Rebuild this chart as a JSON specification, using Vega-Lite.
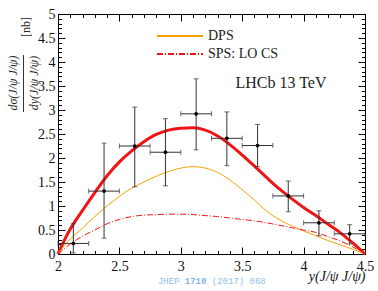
{
  "$schema": "https://vega.github.io/schema/vega-lite/v6.json",
  "width": 307,
  "height": 240,
  "autosize": "none",
  "padding": {"left": 58, "top": 14, "right": 13, "bottom": 37},
  "background": "white",
  "config": {
    "view": {"stroke": null},
    "font": "Liberation Serif",
    "axis": {"grid": false, "labelFont": "Liberation Serif", "labelFontSize": 14, "labelColor": "#111", "titleFont": "Liberation Serif", "domainColor": "#000", "tickColor": "#000", "labelFlush": false, "labelOverlap": false}
  },
  "datasets": {
    "pts": [
      {"x": 2.125, "y": 0.22, "ylo": 0.02, "yhi": 0.63, "xlo": 2.0, "xhi": 2.25},
      {"x": 2.375, "y": 1.31, "ylo": 0.33, "yhi": 2.31, "xlo": 2.25, "xhi": 2.5},
      {"x": 2.625, "y": 2.25, "ylo": 1.40, "yhi": 3.06, "xlo": 2.5, "xhi": 2.75},
      {"x": 2.875, "y": 2.12, "ylo": 1.42, "yhi": 2.82, "xlo": 2.75, "xhi": 3.0},
      {"x": 3.125, "y": 2.92, "ylo": 2.17, "yhi": 3.65, "xlo": 3.0, "xhi": 3.25},
      {"x": 3.375, "y": 2.41, "ylo": 1.84, "yhi": 2.96, "xlo": 3.25, "xhi": 3.5},
      {"x": 3.625, "y": 2.26, "ylo": 1.82, "yhi": 2.70, "xlo": 3.5, "xhi": 3.75},
      {"x": 3.875, "y": 1.21, "ylo": 0.88, "yhi": 1.52, "xlo": 3.75, "xhi": 4.0},
      {"x": 4.125, "y": 0.65, "ylo": 0.38, "yhi": 0.90, "xlo": 4.0, "xhi": 4.25},
      {"x": 4.375, "y": 0.42, "ylo": 0.21, "yhi": 0.61, "xlo": 4.25, "xhi": 4.5}
    ],
    "dps": [
      {"x": 2.0, "y": 0, "s": "DPS"}, {"x": 2.05, "y": 0.17, "s": "DPS"}, {"x": 2.1, "y": 0.31, "s": "DPS"}, {"x": 2.2, "y": 0.54, "s": "DPS"}, {"x": 2.3, "y": 0.78, "s": "DPS"}, {"x": 2.4, "y": 1.0, "s": "DPS"}, {"x": 2.5, "y": 1.2, "s": "DPS"}, {"x": 2.6, "y": 1.37, "s": "DPS"}, {"x": 2.7, "y": 1.5, "s": "DPS"}, {"x": 2.8, "y": 1.62, "s": "DPS"}, {"x": 2.9, "y": 1.72, "s": "DPS"}, {"x": 3.0, "y": 1.79, "s": "DPS"}, {"x": 3.1, "y": 1.82, "s": "DPS"}, {"x": 3.2, "y": 1.79, "s": "DPS"}, {"x": 3.3, "y": 1.7, "s": "DPS"}, {"x": 3.4, "y": 1.54, "s": "DPS"}, {"x": 3.5, "y": 1.34, "s": "DPS"}, {"x": 3.6, "y": 1.12, "s": "DPS"}, {"x": 3.7, "y": 0.89, "s": "DPS"}, {"x": 3.8, "y": 0.72, "s": "DPS"}, {"x": 3.9, "y": 0.59, "s": "DPS"}, {"x": 4.0, "y": 0.48, "s": "DPS"}, {"x": 4.1, "y": 0.38, "s": "DPS"}, {"x": 4.2, "y": 0.28, "s": "DPS"}, {"x": 4.3, "y": 0.19, "s": "DPS"}, {"x": 4.4, "y": 0.1, "s": "DPS"}, {"x": 4.5, "y": 0, "s": "DPS"}
    ],
    "sps": [
      {"x": 2.0, "y": 0, "s": "SPS: LO CS"}, {"x": 2.05, "y": 0.11, "s": "SPS: LO CS"}, {"x": 2.1, "y": 0.21, "s": "SPS: LO CS"}, {"x": 2.2, "y": 0.37, "s": "SPS: LO CS"}, {"x": 2.3, "y": 0.5, "s": "SPS: LO CS"}, {"x": 2.4, "y": 0.63, "s": "SPS: LO CS"}, {"x": 2.5, "y": 0.72, "s": "SPS: LO CS"}, {"x": 2.6, "y": 0.78, "s": "SPS: LO CS"}, {"x": 2.7, "y": 0.81, "s": "SPS: LO CS"}, {"x": 2.8, "y": 0.82, "s": "SPS: LO CS"}, {"x": 2.9, "y": 0.83, "s": "SPS: LO CS"}, {"x": 3.0, "y": 0.83, "s": "SPS: LO CS"}, {"x": 3.1, "y": 0.82, "s": "SPS: LO CS"}, {"x": 3.2, "y": 0.8, "s": "SPS: LO CS"}, {"x": 3.3, "y": 0.78, "s": "SPS: LO CS"}, {"x": 3.4, "y": 0.75, "s": "SPS: LO CS"}, {"x": 3.5, "y": 0.72, "s": "SPS: LO CS"}, {"x": 3.6, "y": 0.69, "s": "SPS: LO CS"}, {"x": 3.7, "y": 0.65, "s": "SPS: LO CS"}, {"x": 3.8, "y": 0.6, "s": "SPS: LO CS"}, {"x": 3.9, "y": 0.55, "s": "SPS: LO CS"}, {"x": 4.0, "y": 0.5, "s": "SPS: LO CS"}, {"x": 4.1, "y": 0.45, "s": "SPS: LO CS"}, {"x": 4.2, "y": 0.36, "s": "SPS: LO CS"}, {"x": 4.3, "y": 0.27, "s": "SPS: LO CS"}, {"x": 4.4, "y": 0.15, "s": "SPS: LO CS"}, {"x": 4.5, "y": 0, "s": "SPS: LO CS"}
    ],
    "total": [
      {"x": 2.0, "y": 0}, {"x": 2.05, "y": 0.28}, {"x": 2.1, "y": 0.52}, {"x": 2.2, "y": 0.91}, {"x": 2.3, "y": 1.28}, {"x": 2.4, "y": 1.63}, {"x": 2.5, "y": 1.92}, {"x": 2.6, "y": 2.15}, {"x": 2.7, "y": 2.34}, {"x": 2.8, "y": 2.49}, {"x": 2.9, "y": 2.58}, {"x": 3.0, "y": 2.62}, {"x": 3.1, "y": 2.63}, {"x": 3.2, "y": 2.58}, {"x": 3.3, "y": 2.46}, {"x": 3.4, "y": 2.28}, {"x": 3.5, "y": 2.06}, {"x": 3.6, "y": 1.83}, {"x": 3.7, "y": 1.59}, {"x": 3.8, "y": 1.36}, {"x": 3.9, "y": 1.16}, {"x": 4.0, "y": 0.97}, {"x": 4.1, "y": 0.8}, {"x": 4.2, "y": 0.62}, {"x": 4.3, "y": 0.44}, {"x": 4.4, "y": 0.23}, {"x": 4.5, "y": 0}
    ],
    "one": [{}]
  },
  "layer": [
    {
      "data": {"name": "total"},
      "mark": {"type": "line", "color": "#f01414", "strokeWidth": 3, "interpolate": "monotone"},
      "encoding": {
        "x": {"field": "x", "type": "quantitative", "scale": {"domain": [2, 4.5], "nice": false, "zero": false},
          "axis": {"orient": "bottom", "values": [2, 2.5, 3, 3.5, 4, 4.5], "format": "~g", "ticks": false, "domain": true, "labelPadding": 5, "labelFont": "Liberation Serif", "labelFontSize": 14, "labelColor": "#111", "title": "y(J/ψ J/ψ)", "titleFont": "Liberation Serif", "titleFontSize": 14, "titleFontStyle": "italic", "titleFontWeight": "normal", "titleAnchor": "end", "titleAlign": "right", "titleX": 307, "titleY": 26, "titleBaseline": "alphabetic", "titleColor": "#111"}},
        "y": {"field": "y", "type": "quantitative", "scale": {"domain": [0, 5], "nice": false, "zero": false},
          "axis": {"orient": "left", "values": [0, 0.5, 1, 1.5, 2, 2.5, 3, 3.5, 4, 4.5, 5], "format": "~g", "ticks": false, "domain": true, "labelPadding": 3, "labelFont": "Liberation Serif", "labelFontSize": 14, "labelColor": "#111", "title": null}}
      }
    },
    {
      "data": {"name": "dps"},
      "mark": {"type": "line", "strokeWidth": 1, "interpolate": "monotone"},
      "encoding": {
        "x": {"field": "x", "type": "quantitative", "scale": {"domain": [2, 4.5], "nice": false, "zero": false},
          "axis": {"orient": "bottom", "values": [2, 2.5, 3, 3.5, 4, 4.5], "ticks": true, "tickSize": -7, "labels": false, "domain": false, "title": null}},
        "y": {"field": "y", "type": "quantitative", "scale": {"domain": [0, 5], "nice": false, "zero": false},
          "axis": {"orient": "left", "values": [0, 0.5, 1, 1.5, 2, 2.5, 3, 3.5, 4, 4.5, 5], "ticks": true, "tickSize": -7, "labels": false, "domain": false, "title": null}},
        "color": {"field": "s", "type": "nominal", "scale": {"domain": ["DPS"], "range": ["#f5a300"]},
          "legend": {"orient": "none", "legendX": 98, "legendY": -2, "title": null, "padding": 0, "symbolType": "stroke", "symbolSize": 2116, "symbolStrokeWidth": 2, "labelFont": "Liberation Serif", "labelFontSize": 14, "labelColor": "#222", "labelOffset": 4}}
      }
    },
    {
      "data": {"name": "sps"},
      "mark": {"type": "line", "strokeWidth": 1, "color": "#f01414", "interpolate": "monotone"},
      "encoding": {
        "x": {"field": "x", "type": "quantitative", "axis": null},
        "y": {"field": "y", "type": "quantitative", "axis": null},
        "strokeDash": {"field": "s", "type": "nominal", "scale": {"domain": ["SPS: LO CS"], "range": [[6, 2, 1, 2]]},
          "legend": {"orient": "none", "legendX": 98, "legendY": 16, "title": null, "padding": 0, "symbolType": "stroke", "symbolSize": 2116, "symbolStrokeWidth": 2, "symbolStrokeColor": "#f01414", "labelFont": "Liberation Serif", "labelFontSize": 14, "labelColor": "#222", "labelOffset": 4}}
      }
    },
    {
      "data": {"name": "pts"},
      "mark": {"type": "rule", "color": "#333", "strokeWidth": 1},
      "encoding": {
        "x": {"field": "x", "type": "quantitative", "scale": {"domain": [2, 4.5], "nice": false, "zero": false},
          "axis": {"orient": "bottom", "values": [2, 2.1, 2.2, 2.3, 2.4, 2.5, 2.6, 2.7, 2.8, 2.9, 3, 3.1, 3.2, 3.3, 3.4, 3.5, 3.6, 3.7, 3.8, 3.9, 4, 4.1, 4.2, 4.3, 4.4, 4.5], "ticks": true, "tickSize": -3.5, "labels": false, "domain": false, "title": null}},
        "y": {"field": "ylo", "type": "quantitative", "scale": {"domain": [0, 5], "nice": false, "zero": false},
          "axis": {"orient": "left", "values": [0, 0.1, 0.2, 0.3, 0.4, 0.5, 0.6, 0.7, 0.8, 0.9, 1, 1.1, 1.2, 1.3, 1.4, 1.5, 1.6, 1.7, 1.8, 1.9, 2, 2.1, 2.2, 2.3, 2.4, 2.5, 2.6, 2.7, 2.8, 2.9, 3, 3.1, 3.2, 3.3, 3.4, 3.5, 3.6, 3.7, 3.8, 3.9, 4, 4.1, 4.2, 4.3, 4.4, 4.5, 4.6, 4.7, 4.8, 4.9, 5], "ticks": true, "tickSize": -3.5, "labels": false, "domain": false, "title": null}},
        "y2": {"field": "yhi"}
      }
    },
    {
      "data": {"name": "pts"},
      "mark": {"type": "rule", "color": "#333", "strokeWidth": 1},
      "encoding": {
        "x": {"field": "xlo", "type": "quantitative", "scale": {"domain": [2, 4.5], "nice": false, "zero": false},
          "axis": {"orient": "top", "values": [2, 2.5, 3, 3.5, 4, 4.5], "ticks": true, "tickSize": -7, "labels": false, "domain": true, "title": null}},
        "x2": {"field": "xhi"},
        "y": {"field": "y", "type": "quantitative", "scale": {"domain": [0, 5], "nice": false, "zero": false},
          "axis": {"orient": "right", "values": [0, 0.5, 1, 1.5, 2, 2.5, 3, 3.5, 4, 4.5, 5], "ticks": true, "tickSize": -7, "labels": false, "domain": true, "title": null}}
      }
    },
    {
      "data": {"name": "pts"},
      "mark": {"type": "tick", "orient": "horizontal", "color": "#333", "size": 5, "thickness": 1},
      "encoding": {
        "x": {"field": "x", "type": "quantitative", "scale": {"domain": [2, 4.5], "nice": false, "zero": false},
          "axis": {"orient": "top", "values": [2, 2.1, 2.2, 2.3, 2.4, 2.5, 2.6, 2.7, 2.8, 2.9, 3, 3.1, 3.2, 3.3, 3.4, 3.5, 3.6, 3.7, 3.8, 3.9, 4, 4.1, 4.2, 4.3, 4.4, 4.5], "ticks": true, "tickSize": -3.5, "labels": false, "domain": false, "title": null}},
        "y": {"field": "yhi", "type": "quantitative", "scale": {"domain": [0, 5], "nice": false, "zero": false},
          "axis": {"orient": "right", "values": [0, 0.1, 0.2, 0.3, 0.4, 0.5, 0.6, 0.7, 0.8, 0.9, 1, 1.1, 1.2, 1.3, 1.4, 1.5, 1.6, 1.7, 1.8, 1.9, 2, 2.1, 2.2, 2.3, 2.4, 2.5, 2.6, 2.7, 2.8, 2.9, 3, 3.1, 3.2, 3.3, 3.4, 3.5, 3.6, 3.7, 3.8, 3.9, 4, 4.1, 4.2, 4.3, 4.4, 4.5, 4.6, 4.7, 4.8, 4.9, 5], "ticks": true, "tickSize": -3.5, "labels": false, "domain": false, "title": null}}
      }
    },
    {
      "data": {"name": "pts"},
      "mark": {"type": "tick", "orient": "horizontal", "color": "#333", "size": 5, "thickness": 1},
      "encoding": {
        "x": {"field": "x", "type": "quantitative", "axis": null},
        "y": {"field": "ylo", "type": "quantitative", "axis": null}
      }
    },
    {
      "data": {"name": "pts"},
      "mark": {"type": "tick", "orient": "vertical", "color": "#333", "size": 5, "thickness": 1},
      "encoding": {
        "x": {"field": "xlo", "type": "quantitative", "axis": null},
        "y": {"field": "y", "type": "quantitative", "axis": null}
      }
    },
    {
      "data": {"name": "pts"},
      "mark": {"type": "tick", "orient": "vertical", "color": "#333", "size": 5, "thickness": 1},
      "encoding": {
        "x": {"field": "xhi", "type": "quantitative", "axis": null},
        "y": {"field": "y", "type": "quantitative", "axis": null}
      }
    },
    {
      "data": {"name": "pts"},
      "mark": {"type": "point", "filled": true, "color": "#000", "size": 14, "opacity": 1},
      "encoding": {
        "x": {"field": "x", "type": "quantitative", "axis": null},
        "y": {"field": "y", "type": "quantitative", "axis": null}
      }
    },
    {
      "data": {"name": "one"},
      "mark": {"type": "text", "text": "LHCb 13 TeV", "font": "Liberation Serif", "fontSize": 16, "color": "#222", "align": "center", "baseline": "middle"},
      "encoding": {
        "x": {"datum": 3.816, "type": "quantitative", "axis": null},
        "y": {"datum": 3.56, "type": "quantitative", "axis": null}
      }
    },
    {
      "data": {"name": "one"},
      "mark": {"type": "text", "text": "dσ(J/ψ J/ψ)", "font": "Liberation Serif", "fontSize": 12, "fontStyle": "italic", "color": "#222", "align": "center", "baseline": "middle", "angle": 270, "clip": false},
      "encoding": {
        "x": {"datum": 1.6336, "type": "quantitative", "axis": null},
        "y": {"datum": 3.5625, "type": "quantitative", "axis": null}
      }
    },
    {
      "data": {"name": "one"},
      "mark": {"type": "text", "text": "dy(J/ψ J/ψ)", "font": "Liberation Serif", "fontSize": 12, "fontStyle": "italic", "color": "#222", "align": "center", "baseline": "middle", "angle": 270, "clip": false},
      "encoding": {
        "x": {"datum": 1.8005, "type": "quantitative", "axis": null},
        "y": {"datum": 3.5625, "type": "quantitative", "axis": null}
      }
    },
    {
      "data": {"name": "one"},
      "mark": {"type": "rule", "color": "#333", "strokeWidth": 1, "clip": false},
      "encoding": {
        "x": {"datum": 1.719, "type": "quantitative", "axis": null},
        "y": {"datum": 2.958, "type": "quantitative", "axis": null},
        "y2": {"datum": 4.146}
      }
    },
    {
      "data": {"name": "one"},
      "mark": {"type": "text", "text": "[nb]", "font": "Liberation Serif", "fontSize": 12, "color": "#222", "align": "center", "baseline": "middle", "angle": 270, "clip": false},
      "encoding": {
        "x": {"datum": 1.74, "type": "quantitative", "axis": null},
        "y": {"datum": 4.73, "type": "quantitative", "axis": null}
      }
    },
    {
      "data": {"name": "one"},
      "mark": {"type": "text", "text": "JHEP", "font": "Liberation Mono", "fontSize": 9, "color": "#8fc0f0", "align": "center", "baseline": "middle", "clip": false},
      "encoding": {
        "x": {"datum": 2.8998, "type": "quantitative", "axis": null},
        "y": {"datum": -0.5625, "type": "quantitative", "axis": null}
      }
    },
    {
      "data": {"name": "one"},
      "mark": {"type": "text", "text": "1710", "font": "Liberation Mono", "fontSize": 9, "fontWeight": "bold", "color": "#7fb4ec", "align": "center", "baseline": "middle", "clip": false},
      "encoding": {
        "x": {"datum": 3.1197, "type": "quantitative", "axis": null},
        "y": {"datum": -0.5625, "type": "quantitative", "axis": null}
      }
    },
    {
      "data": {"name": "one"},
      "mark": {"type": "text", "text": "(2017) 068", "font": "Liberation Mono", "fontSize": 9, "color": "#8fc0f0", "align": "center", "baseline": "middle", "clip": false},
      "encoding": {
        "x": {"datum": 3.4715, "type": "quantitative", "axis": null},
        "y": {"datum": -0.5625, "type": "quantitative", "axis": null}
      }
    }
  ],
  "resolve": {"axis": {"x": "independent", "y": "independent"}}
}
